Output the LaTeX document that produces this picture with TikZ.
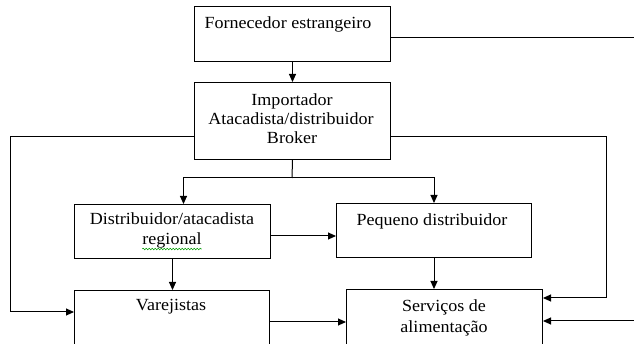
\documentclass[tikz,border=0pt]{standalone}
\usepackage{fontspec}
\setmainfont{Liberation Serif}[FakeStretch=1.06]
\usetikzlibrary{arrows.meta,calc,decorations.pathmorphing}
\begin{document}
\begin{tikzpicture}[x=1pt,y=-1pt,
  box/.style={draw, line width=1pt, minimum width=196pt, inner sep=0pt, anchor=north west},
  txt/.style={font=\fontsize{17}{19}\selectfont, inner sep=0pt, anchor=base},
  con/.style={line width=1pt},
  arr/.style={con, -{Triangle[length=8pt,width=7pt]}}]
\useasboundingbox (0,0) rectangle (634,344);
\begin{scope}
\clip (0,0) rectangle (634,344);
% boxes
\node[box, minimum height=55pt] (forn) at (194,6) {};
\node[box, minimum height=77pt] (imp) at (194,82) {};
\node[box, minimum height=54pt] (dist) at (74,204) {};
\node[box, minimum height=54pt, minimum width=195pt] (peq) at (336,203) {};
\node[box, minimum height=70pt, minimum width=195pt] (var) at (74,290) {};
\node[box, minimum height=70pt] (serv) at (346,289) {};
% texts
\node[txt] (forn-t) at (288,29) {Fornecedor estrangeiro};
\node[txt] (imp-t1) at (292,106) {Importador};
\node[txt] (imp-t2) at (291,125) {Atacadista/distribuidor};
\node[txt] (imp-t3) at (292,144) {Broker};
\node[txt] (dist-t1) at (172,225) {Distribuidor/atacadista};
\node[txt] (dist-t2) at (172,245) {regional};
\node[txt] (peq-t) at (432,226) {Pequeno distribuidor};
\node[txt] (var-t) at (171,311) {Varejistas};
\node[txt] (serv-t1) at (444,312) {Serviços de};
\node[txt] (serv-t2) at (444,333) {alimentação};
\draw[green!60!black, line width=0.6pt, decorate, decoration={snake, amplitude=0.8pt, segment length=3pt}]
  ($(dist-t2.base west)+(0,4)$) -- ($(dist-t2.base east)+(0,4)$);
% connectors
\coordinate (fornR) at (634,38);
\draw[con] (fornR -| forn.east) -- (fornR);
\draw[arr] (forn.south) -- (imp.north);
\coordinate (L) at (10,137);
\coordinate (R) at (606,137);
\coordinate (vin) at ($(var.north west)+(0,22)$);
\coordinate (sin) at ($(serv.north east)+(0,9)$);
\draw[arr] (L -| imp.west) -- (L) |- (vin);
\draw[arr] (R -| imp.east) -- (R) |- (sin);
\coordinate (J) at (292,178);
\draw[con] (imp.south) -- (J);
\draw[arr] (J) -| ($(dist.north)+(11,0)$);
\draw[arr] (J) -| (peq.north);
\coordinate (dp) at ($(dist.north east)+(0,32)$);
\draw[arr] (dp) -- (dp -| peq.west);
\draw[arr] (dist.south) -- (dist.south |- var.north);
\draw[arr] (peq.south) -- (peq.south |- serv.north);
\coordinate (vs) at ($(var.north east)+(0,32)$);
\draw[arr] (vs) -- (vs -| serv.west);
\coordinate (E) at (634,321);
\draw[arr] (E) -- (E -| serv.east);
\end{scope}
\end{tikzpicture}
\end{document}
